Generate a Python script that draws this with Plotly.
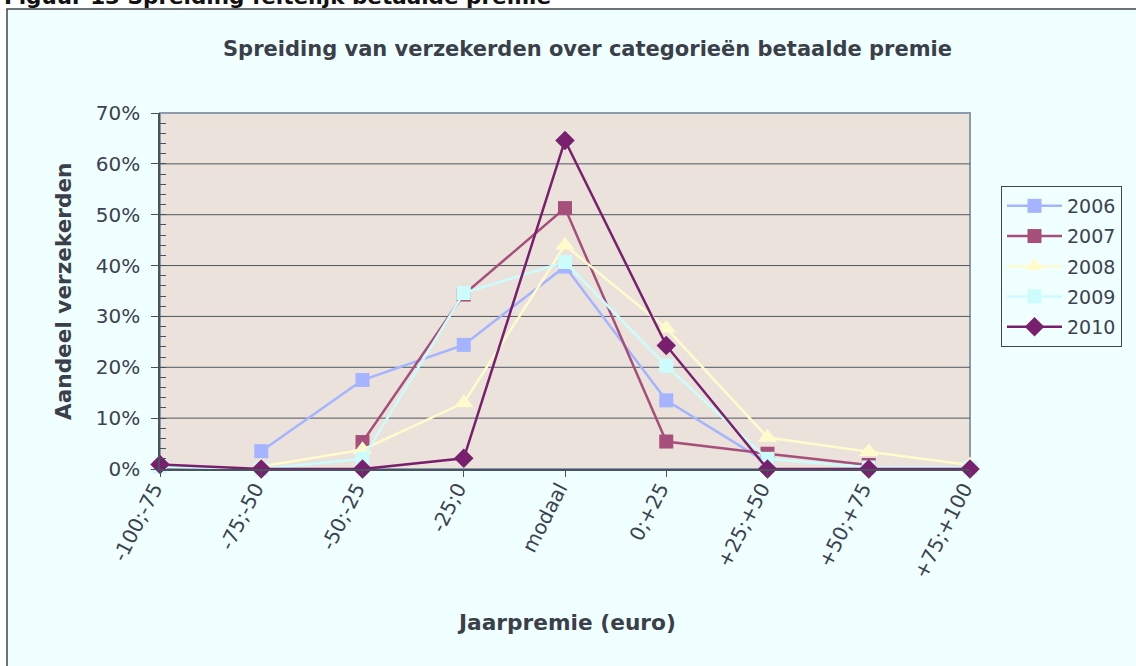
import plotly.graph_objects as go

categories = ["-100;-75", "-75;-50", "-50;-25", "-25;0", "modaal",
              "0;+25", "+25;+50", "+50;+75", "+75;+100"]
years = ["2006", "2007", "2008", "2009", "2010"]
s2006 = [None, 3.5, 17.5, 24.4, 39.8, 13.5, 1.2, None, None]
s2007 = [None, None, 5.3, 34.3, 51.3, 5.4, 3.0, 0.8, None]
s2008 = [None, 0.5, 3.8, 13.0, 44.0, 27.7, 6.2, 3.4, 0.8]
s2009 = [0.5, 0.0, 2.0, 34.6, 40.7, 20.3, 2.0, 0.3, 0.2]
s2010 = [0.9, 0.0, 0.0, 2.1, 64.6, 24.3, 0.0, 0.0, 0.0]
y_ticks = [0, 10, 20, 30, 40, 50, 60, 70]
y_ticktext = ["0%", "10%", "20%", "30%", "40%", "50%", "60%", "70%"]

series = [s2006, s2007, s2008, s2009, s2010]
colors = ["#A4B4FF", "#A64F7A", "#FFFBCC", "#CCFCFC", "#78206E"]
symbols = ["square", "square", "triangle-up", "square", "diamond"]
sizes = [14, 14, 17, 14, 15]

FONT = "DejaVu Sans"
TXT = "#3B4250"
W, H = 1136, 666
L, R, T, B = 160, 970, 113, 469


def px(x):
    return (x - L) / (R - L)


def py(y):
    return (B - y) / (B - T)


fig = go.Figure()
for name, vals, c, s, sz in zip(years, series, colors, symbols, sizes):
    fig.add_trace(go.Scatter(
        x=categories, y=vals, name=name, legendgroup=name,
        mode="lines+markers",
        line=dict(color=c, width=2.5),
        marker=dict(color=c, symbol=s, size=sz),
        cliponaxis=False, connectgaps=False,
    ))

# invisible trace on second y-axis for minor ticks
fig.add_trace(go.Scatter(x=[categories[0]], y=[0], yaxis="y2", showlegend=False,
                         mode="markers", marker=dict(opacity=0), hoverinfo="skip"))

shapes = [
    dict(type="rect", xref="paper", yref="paper", layer="below",
         x0=px(7), x1=px(1145), y0=py(680), y1=py(9),
         fillcolor="#F0FFFF", line=dict(color="#3F464F", width=1.5)),
    dict(type="rect", xref="paper", yref="paper", layer="below",
         x0=0, x1=1, y0=0, y1=1,
         fillcolor="#EAE2DB", line=dict(color="#8C9AAD", width=2)),
]
for v in y_ticks[1:-1]:
    shapes.append(dict(type="line", xref="paper", yref="y", layer="below",
                       x0=0, x1=1, y0=v, y1=v,
                       line=dict(color="#50565F", width=1)))

fig.update_layout(
    width=W, height=H,
    margin=dict(l=L, r=W - R, t=T, b=H - B, pad=0),
    paper_bgcolor="white",
    plot_bgcolor="rgba(0,0,0,0)",
    font=dict(family=FONT, color=TXT),
    showlegend=True,
    legend=dict(x=px(1001), y=py(186), xanchor="left", yanchor="top",
                bgcolor="#F0FFFF", bordercolor="#3F464F", borderwidth=1,
                tracegroupgap=2.5, itemwidth=55,
                font=dict(size=19, color=TXT, family=FONT)),
    xaxis=dict(type="category", range=[0, 8], showgrid=False, zeroline=False,
               showline=True, linecolor="#4A5260", linewidth=2,
               ticks="outside", ticklen=6, tickcolor="#4A5260",
               ticklabelstandoff=-8, ticklabelshift=-6,
               tickangle=-63, tickfont=dict(size=20, color=TXT, family=FONT)),
    yaxis=dict(range=[0, 70], tickmode="array", tickvals=y_ticks,
               ticktext=y_ticktext,
               showgrid=False, zeroline=False,
               showline=True, linecolor="#4A5260", linewidth=1.5,
               ticks="outside", ticklen=7, tickcolor="#4A5260",
               ticklabelstandoff=7,
               tickfont=dict(size=20, color=TXT, family=FONT)),
    yaxis2=dict(range=[0, 70], overlaying="y", side="left", dtick=2,
                showticklabels=False, showgrid=False, zeroline=False,
                ticks="inside", ticklen=6, tickcolor="#4A5260", showline=False),
    shapes=shapes,
    annotations=[
        dict(text="<b>Spreiding van verzekerden over categorieën betaalde premie</b>",
             xref="paper", yref="paper", x=px(587), y=py(49),
             xanchor="center", yanchor="middle", showarrow=False,
             font=dict(size=21, color="#3A3F4A", family=FONT)),
        dict(text="<b>Aandeel verzekerden</b>", textangle=-90,
             xref="paper", yref="paper", x=px(63), y=py(292),
             xanchor="center", yanchor="middle", showarrow=False,
             font=dict(size=21.6, color="#3A3F4A", family=FONT)),
        dict(text="<b>Jaarpremie (euro)</b>",
             xref="paper", yref="paper", x=px(566), y=py(622),
             xanchor="center", yanchor="middle", showarrow=False,
             font=dict(size=21.7, color="#3A3F4A", family=FONT)),
        dict(text="<b>Figuur 13 Spreiding feitelijk betaalde premie</b>",
             xref="paper", yref="paper", x=px(2), y=py(-4),
             xanchor="left", yanchor="middle", showarrow=False,
             font=dict(size=21.5, color="#111111", family=FONT)),
    ],
)

fig.write_html("out.html",
               config={"displayModeBar": False},
               post_script="document.body.style.margin='0';"
                           "document.body.style.overflow='hidden';")
